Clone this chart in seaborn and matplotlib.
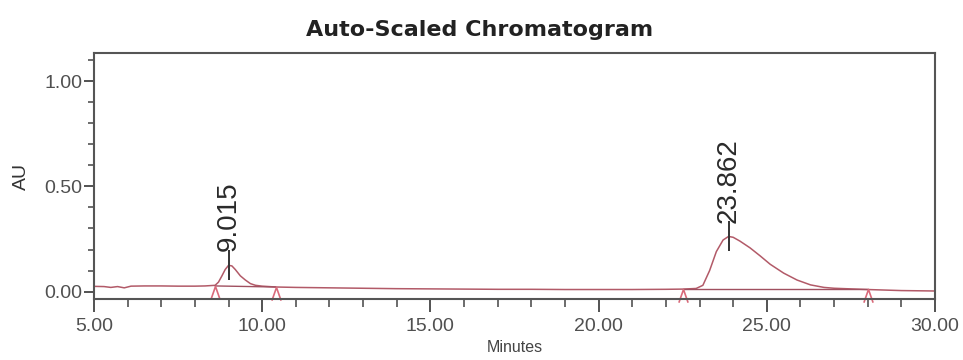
import matplotlib
matplotlib.use("Agg")
import matplotlib.pyplot as plt
import seaborn as sns
import pandas as pd
from matplotlib.path import Path
from matplotlib.ticker import MultipleLocator, FormatStrFormatter

# ---- data ----
minutes = [5.0, 5.3, 5.5, 5.7, 5.9, 6.1, 6.5, 7.0, 7.5, 8.0, 8.3, 8.6, 8.7, 8.8, 8.9,
           9.0, 9.1, 9.2, 9.35, 9.5, 9.65, 9.8, 10.0, 10.4, 11.0, 12.0, 13.0, 14.0,
           15.0, 16.0, 17.0, 18.0, 19.0, 20.0, 21.0, 22.0, 22.5, 22.9, 23.1, 23.3,
           23.5, 23.7, 23.862, 24.0, 24.2, 24.5, 24.8, 25.1, 25.5, 25.9, 26.3, 26.7,
           27.0, 27.5, 28.0, 29.0, 30.0]
au = [0.025, 0.024, 0.020, 0.024, 0.018, 0.026, 0.027, 0.027, 0.026, 0.026, 0.027,
      0.030, 0.045, 0.074, 0.105, 0.125, 0.122, 0.105, 0.075, 0.055, 0.038, 0.030,
      0.026, 0.022, 0.020, 0.018, 0.016, 0.014, 0.013, 0.012, 0.011, 0.011, 0.010,
      0.010, 0.010, 0.011, 0.012, 0.015, 0.030, 0.100, 0.190, 0.245, 0.262, 0.258,
      0.240, 0.208, 0.170, 0.130, 0.088, 0.055, 0.032, 0.020, 0.016, 0.013, 0.010,
      0.005, 0.003]

peak_rt = [9.015, 23.862]
peak_height = [0.125, 0.262]
peak_labels = ["9.015", "23.862"]

int_start = [8.6, 22.5]
int_end = [10.4, 28.0]
int_start_level = [0.027, 0.012]
int_end_level = [0.022, 0.012]

x_ticks = [5, 10, 15, 20, 25, 30]
y_ticks = [0.0, 0.5, 1.0]

# ---- figure ----
sns.set_style("white")
plt.rcParams["font.family"] = ["Liberation Sans", "DejaVu Sans"]

fig = plt.figure(figsize=(9.63, 3.6), dpi=100)
ax = fig.add_axes([94 / 963, 1 - 299 / 360, (935 - 94) / 963, (299 - 53) / 360])

trace_color = "#b25a68"
mark_color = "#d96a7a"

df = pd.DataFrame({"Minutes": minutes, "AU": au})
sns.lineplot(data=df, x="Minutes", y="AU", ax=ax, color=trace_color, lw=1.1,
             estimator=None, sort=False)

# integration baselines
for s, e, sl, el in zip(int_start, int_end, int_start_level, int_end_level):
    sns.lineplot(x=[s, e], y=[sl, el], ax=ax, color="#a05060", lw=1.0,
                 estimator=None, sort=False)

# drop-line markers (open "Λ" with apex at the baseline point)
lam = Path([(-0.35, -1.0), (0.0, 0.0), (0.35, -1.0)],
           [Path.MOVETO, Path.LINETO, Path.LINETO])
tri_x = int_start + int_end
tri_y = int_start_level + int_end_level
ax.plot(tri_x, tri_y, ls="none", marker=lam, markersize=19,
        markerfacecolor="none", markeredgecolor=mark_color, markeredgewidth=1.2,
        clip_on=False)

# peak ticks and labels
ax.plot(peak_rt, peak_height, ls="none", marker="|", markersize=21,
        markeredgecolor="#333333", markeredgewidth=1.4)
for x, y, lab in zip(peak_rt, peak_height, peak_labels):
    ax.annotate(lab, (x, y), xytext=(0, 10), textcoords="offset points",
                rotation=90, ha="center", va="bottom", fontsize=20, color="#2a2a2a")

ax.set_xlim(5, 30)
ax.set_ylim(-0.035, 1.133)
ax.set_xticks(x_ticks)
ax.set_yticks(y_ticks)
ax.xaxis.set_minor_locator(MultipleLocator(1))
ax.yaxis.set_minor_locator(MultipleLocator(0.1))
ax.xaxis.set_major_formatter(FormatStrFormatter("%.2f"))
ax.yaxis.set_major_formatter(FormatStrFormatter("%.2f"))
ax.tick_params(which="both", direction="out", color="#444444",
               labelsize=14, labelcolor="#505050", bottom=True, left=True)
ax.tick_params(axis="x", which="major", length=9.5, width=1.3, pad=4)
ax.tick_params(axis="x", which="minor", length=5.8, width=1.1)
ax.tick_params(axis="y", which="major", length=7.5, width=1.3, pad=1)
ax.tick_params(axis="y", which="minor", length=4.3, width=1.1)

for sp in ax.spines.values():
    sp.set_visible(True)
    sp.set_color("#555555")
    sp.set_linewidth(1.5)

ax.set_xlabel("Minutes", fontsize=11.5, color="#444444", labelpad=4)
ax.set_ylabel("AU", fontsize=14, color="#333333", labelpad=10)
fig.text(0.498, 0.918, "Auto-Scaled Chromatogram", ha="center", va="center",
         fontsize=16, fontweight="bold", color="#222222", family="DejaVu Sans")

fig.savefig("out.png", dpi=100)
